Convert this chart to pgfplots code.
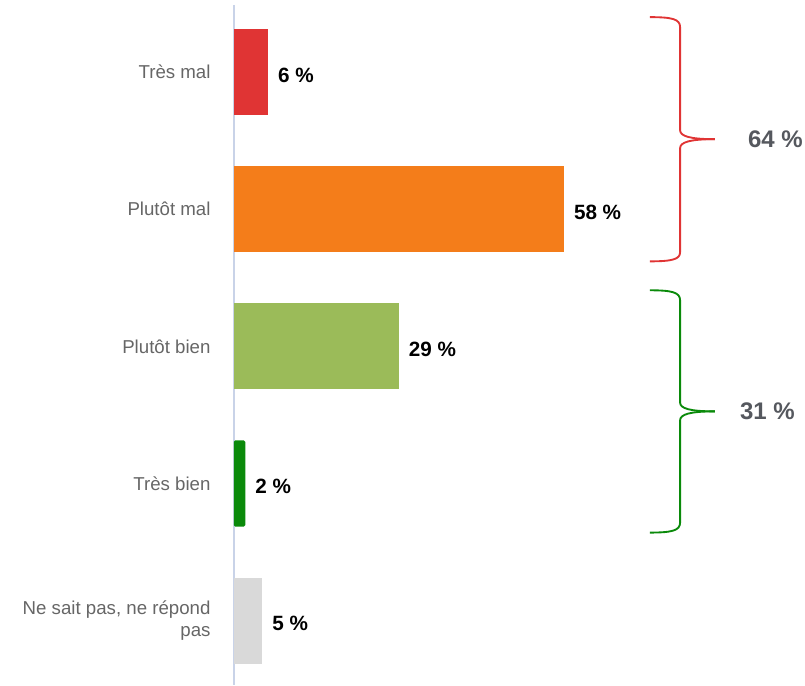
\documentclass[border=0pt]{standalone}
\usepackage{pgfplots}
\pgfplotsset{compat=1.18}
\usepackage{fontspec}
\setmainfont{Liberation Sans}
\definecolor{cRed}{HTML}{E03434}
\definecolor{cOrange}{HTML}{F47D1A}
\definecolor{cLgreen}{HTML}{9BBB59}
\definecolor{cDgreen}{HTML}{0A8A0A}
\definecolor{cGray}{HTML}{D9D9D9}
\definecolor{cAxis}{HTML}{C9D3E8}
\definecolor{cLab}{HTML}{666666}
\definecolor{cBig}{HTML}{55585E}
\begin{document}
\begin{tikzpicture}
\begin{axis}[
  scale only axis,
  width=426.75pt, height=510pt,
  xmin=0, xmax=100,
  ymin=-0.49, ymax=4.47,
  y dir=reverse,
  axis x line=none,
  axis y line*=left,
  y axis line style={draw=none},
  major tick length=0pt,
  clip=false,
  xbar, bar width=64.5pt,
  ytick={0,1,2,3,4},
  yticklabels={Très mal, Plutôt mal, Plutôt bien, Très bien, {Ne sait pas, ne répond\\pas}},
  yticklabel style={align=right, font=\fontsize{14}{17}\selectfont, text=cLab, xshift=-14pt},
  /pgf/number format/assume math mode=true,
  point meta=x,
  nodes near coords={\pgfmathprintnumber{\pgfplotspointmeta}~\%},
  nodes near coords style={font=\fontsize{15.5}{18}\selectfont\bfseries, text=black, anchor=west, xshift=4pt, yshift=-2.2pt},
]
\path (axis cs:-41.1,-0.526) rectangle (axis cs:100.35,4.474);
\draw[cAxis, line width=1pt] (axis cs:0,-0.49) -- (axis cs:0,4.47);
\addplot[fill=cRed, draw=none, bar shift=0pt] coordinates {(6,0)};
\addplot[fill=cOrange, draw=none, bar shift=0pt] coordinates {(58,1)};
\addplot[fill=cLgreen, draw=none, bar shift=0pt] coordinates {(29,2)};
\addplot[fill=cDgreen, draw=none, bar shift=0pt, rounded corners=1pt] coordinates {(2,3)};
\addplot[fill=cGray, draw=none, bar shift=0pt] coordinates {(5,4)};
% red brace
\draw[cRed, line width=1.4pt]
  (axis cs:73.1,-0.401) .. controls (axis cs:77.0,-0.401) and (axis cs:78.4,-0.387) .. (axis cs:78.4,-0.328)
  -- (axis cs:78.4,0.423) .. controls (axis cs:78.4,0.467) and (axis cs:80.1,0.489) .. (axis cs:84.5,0.489);
\draw[cRed, line width=1.4pt]
  (axis cs:84.5,0.489) .. controls (axis cs:80.1,0.489) and (axis cs:78.4,0.511) .. (axis cs:78.4,0.555)
  -- (axis cs:78.4,1.314) .. controls (axis cs:78.4,1.365) and (axis cs:77.0,1.380) .. (axis cs:73.1,1.380);
% green brace
\draw[cDgreen, line width=1.4pt]
  (axis cs:73.1,1.591) .. controls (axis cs:77.0,1.591) and (axis cs:78.4,1.606) .. (axis cs:78.4,1.664)
  -- (axis cs:78.4,2.409) .. controls (axis cs:78.4,2.453) and (axis cs:80.1,2.474) .. (axis cs:84.5,2.474);
\draw[cDgreen, line width=1.4pt]
  (axis cs:84.5,2.474) .. controls (axis cs:80.1,2.474) and (axis cs:78.4,2.496) .. (axis cs:78.4,2.540)
  -- (axis cs:78.4,3.285) .. controls (axis cs:78.4,3.343) and (axis cs:77.0,3.358) .. (axis cs:73.1,3.358);
\node[anchor=west, inner sep=0pt, text=cBig, font=\fontsize{18}{20}\selectfont\bfseries] at (axis cs:90.3,0.489) {64~\%};
\node[anchor=west, inner sep=0pt, text=cBig, font=\fontsize{18}{20}\selectfont\bfseries] at (axis cs:88.9,2.474) {31~\%};
\end{axis}
\end{tikzpicture}
\end{document}
